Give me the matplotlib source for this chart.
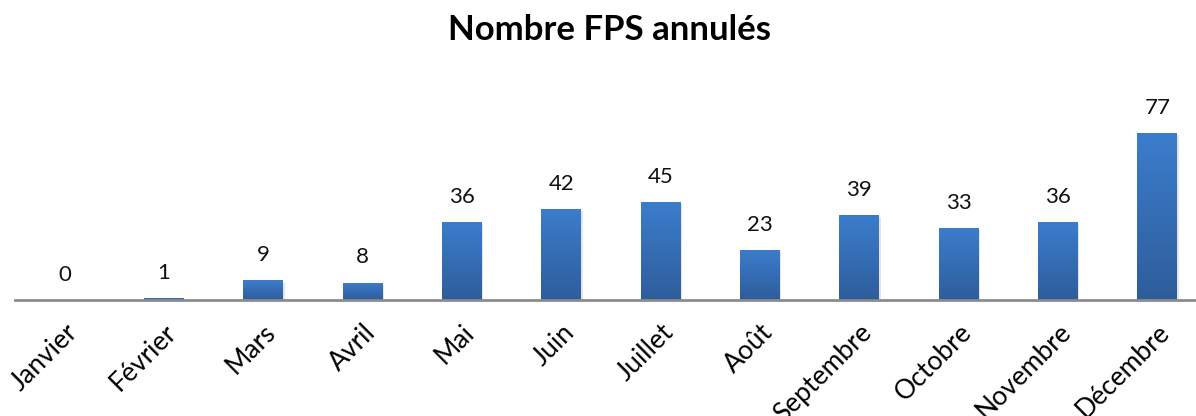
import numpy as np
import matplotlib.pyplot as plt
from matplotlib.colors import LinearSegmentedColormap
import matplotlib.patheffects as pe

mois = ['Janvier', 'Février', 'Mars', 'Avril', 'Mai', 'Juin', 'Juillet',
        'Août', 'Septembre', 'Octobre', 'Novembre', 'Décembre']
annules = [0, 1, 9, 8, 36, 42, 45, 23, 39, 33, 36, 77]

plt.rcParams['font.family'] = ['Lato', 'DejaVu Sans']

fig = plt.figure(figsize=(11.96, 4.16), dpi=100)
ax = fig.add_axes([15 / 1196, 1 - 300 / 416, 1181 / 1196, 220 / 416])

x = np.arange(len(mois))
bars = ax.bar(x, annules, width=0.4, color='#3672c0', zorder=2)

# degrade vertical sur chaque barre
cmap = LinearSegmentedColormap.from_list('bleu', ['#2e5d9c', '#3b7dcc'])
grad = np.linspace(0, 1, 256).reshape(-1, 1)
for b in bars:
    b.set_path_effects([pe.SimplePatchShadow(offset=(1, -1.5), shadow_rgbFace='#999999', alpha=0.25),
                        pe.Normal()])
    if b.get_height() > 0:
        im = ax.imshow(grad, cmap=cmap, origin='lower', aspect='auto', zorder=3,
                       extent=[b.get_x(), b.get_x() + b.get_width(), 0, b.get_height()])
        im.set_clip_path(b)

for xi, v in zip(x, annules):
    ax.text(xi, v + 7, str(v), ha='center', va='bottom', fontsize=16, color='#111111')

ax.set_xlim(-0.5, (1196 - 65) / 99.3)
ax.set_ylim(0, 220 / 2.17)
ax.set_xticks(x)
ax.set_xticklabels(mois, rotation=45, ha='right', rotation_mode='anchor', fontsize=19)
ax.tick_params(axis='x', length=0, pad=14)
ax.set_yticks([])
for s in ['top', 'right', 'left']:
    ax.spines[s].set_visible(False)
ax.spines['bottom'].set_color('#8c8c8c')
ax.spines['bottom'].set_linewidth(2)
ax.spines['bottom'].set_zorder(4)

fig.text(0.51, 1 - 30 / 416, 'Nombre FPS annulés', ha='center', va='center',
         fontsize=25, fontweight='bold')

fig.savefig('out.png', dpi=100)
